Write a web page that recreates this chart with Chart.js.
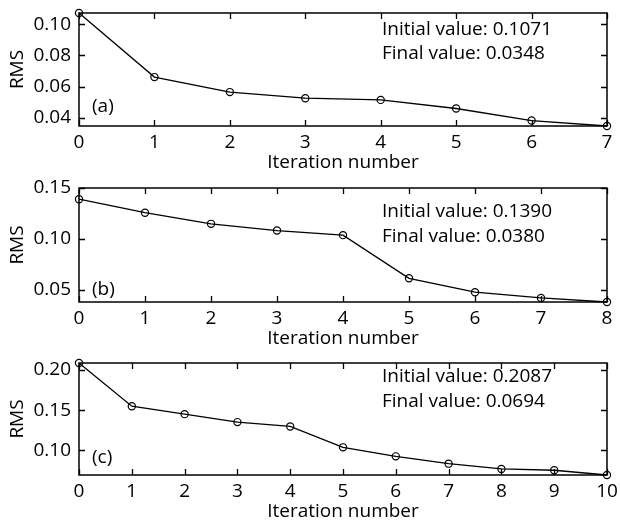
<!DOCTYPE html>
<html><head><meta charset="utf-8">
<script src="https://cdn.jsdelivr.net/npm/chart.js@4"></script>
<style>
html,body{margin:0;padding:0;background:#fff;width:620px;height:521px;overflow:hidden;position:relative}
canvas{position:absolute;left:0}
</style></head><body>
<canvas id="ca"></canvas>
<canvas id="cb"></canvas>
<canvas id="cc"></canvas>
<script>
// ---- data ----
const iterA = [0, 1, 2, 3, 4, 5, 6, 7];
const rmsA  = [0.1071, 0.0661, 0.0565, 0.0526, 0.0515, 0.0460, 0.0383, 0.0348];
const yTicksA = [0.04, 0.06, 0.08, 0.10];
const yRangeA = [0.0348, 0.1071];

const iterB = [0, 1, 2, 3, 4, 5, 6, 7, 8];
const rmsB  = [0.1390, 0.1257, 0.1148, 0.1082, 0.1037, 0.0613, 0.0476, 0.0420, 0.0380];
const yTicksB = [0.05, 0.10, 0.15];
const yRangeB = [0.0380, 0.15];

const iterC = [0, 1, 2, 3, 4, 5, 6, 7, 8, 9, 10];
const rmsC  = [0.2087, 0.1550, 0.1451, 0.1352, 0.1298, 0.1038, 0.0926, 0.0835, 0.0769, 0.0753, 0.0694];
const yTicksC = [0.10, 0.15, 0.20];
const yRangeC = [0.0694, 0.2087];

const panelTags = ['(a)', '(b)', '(c)'];
const xTitle = 'Iteration number';
const yTitle = 'RMS';

// ---- layout (pixels) ----
const layoutP = [
  {id:'ca', top:13,  bottom:126, noteY:[30, 54],   tagY:107},
  {id:'cb', top:188, bottom:302, noteY:[212, 237], tagY:290},
  {id:'cc', top:363, bottom:475, noteY:[377, 402], tagY:458}
];
const FONT = '"Open Sans", "Noto Sans", sans-serif';
const FS = 19;

const framePlugin = {
  id: 'frame',
  beforeDatasetsDraw(chart) {
    const {ctx, chartArea: a, scales: {x, y}} = chart;
    const L = 6;
    ctx.save();
    ctx.strokeStyle = '#000';
    ctx.lineWidth = 1.3;
    x.ticks.forEach((t, i) => {
      const px = Math.round(x.getPixelForTick(i)) + 0.5;
      ctx.beginPath();
      ctx.moveTo(px, a.bottom); ctx.lineTo(px, a.bottom - L);
      ctx.moveTo(px, a.top); ctx.lineTo(px, a.top + L);
      ctx.stroke();
    });
    y.ticks.forEach((t, i) => {
      const py = Math.round(y.getPixelForTick(i)) + 0.5;
      ctx.beginPath();
      ctx.moveTo(a.left, py); ctx.lineTo(a.left + L, py);
      ctx.moveTo(a.right, py); ctx.lineTo(a.right - L, py);
      ctx.stroke();
    });
    ctx.lineWidth = 1.5;
    ctx.strokeRect(a.left, a.top, a.right - a.left, a.bottom - a.top);
    ctx.restore();
  },
  afterDraw(chart, args, opts) {
    const {ctx} = chart;
    const top0 = opts.canvasTop;
    ctx.save();
    ctx.fillStyle = '#000';
    ctx.font = FS + 'px ' + FONT;
    ctx.textBaseline = 'middle';
    ctx.textAlign = 'left';
    ctx.fillText(opts.note1, 382, opts.noteY[0] - top0);
    ctx.fillText(opts.note2, 382, opts.noteY[1] - top0);
    ctx.fillText(opts.tag, 92, opts.tagY - top0);
    ctx.restore();
  }
};

function makePanel(k, iters, vals, yTicks, yRange) {
  const L = layoutP[k];
  const canvas = document.getElementById(L.id);
  const cTop = L.top - 13;
  const cH = L.bottom + 49 - cTop;
  canvas.width = 620; canvas.height = cH;
  canvas.style.top = cTop + 'px';
  canvas.style.width = '620px'; canvas.style.height = cH + 'px';
  const pts = iters.map((it, i) => ({x: it, y: vals[i]}));
  new Chart(canvas, {
    type: 'line',
    data: { datasets: [{
      data: pts,
      borderColor: '#000', borderWidth: 1.3,
      pointStyle: 'circle', pointRadius: 3.6, pointBorderWidth: 1.2,
      pointBackgroundColor: 'rgba(0,0,0,0)', pointBorderColor: '#000',
      tension: 0, clip: false, fill: false
    }]},
    options: {
      responsive: false, animation: false, devicePixelRatio: 1,
      layout: {padding: {top: 13, right: 13, bottom: 0, left: 0}},
      plugins: {
        legend: {display: false}, tooltip: {enabled: false},
        frame: {
          canvasTop: cTop, noteY: L.noteY, tagY: L.tagY, tag: panelTags[k],
          note1: 'Initial value: ' + vals[0].toFixed(4),
          note2: 'Final value: ' + vals[vals.length - 1].toFixed(4)
        }
      },
      scales: {
        x: {
          type: 'linear', min: iters[0], max: iters[iters.length - 1],
          grid: {display: false, drawTicks: false}, border: {display: false},
          ticks: {stepSize: 1, color: '#000', padding: 5, font: {family: FONT, size: FS}},
          title: {display: true, text: xTitle, color: '#000', padding: {top: 0, bottom: 1},
                  font: {family: FONT, size: FS}},
          afterFit(s) { s.height = 49; s.paddingLeft = 0; s.paddingRight = 0; }
        },
        y: {
          type: 'linear', min: yRange[0], max: yRange[1],
          grid: {display: false, drawTicks: false}, border: {display: false},
          afterBuildTicks(s) { s.ticks = yTicks.map(v => ({value: v})); },
          ticks: {color: '#000', padding: 8, font: {family: FONT, size: FS},
                  callback: v => Number(v).toFixed(2)},
          title: {display: true, text: yTitle, color: '#000', padding: {top: 6, bottom: 0},
                  font: {family: FONT, size: FS}},
          afterFit(s) { s.width = 79; s.paddingTop = 0; s.paddingBottom = 0; }
        }
      }
    },
    plugins: [framePlugin]
  });
}

makePanel(0, iterA, rmsA, yTicksA, yRangeA);
makePanel(1, iterB, rmsB, yTicksB, yRangeB);
makePanel(2, iterC, rmsC, yTicksC, yRangeC);
</script>
</body></html>
